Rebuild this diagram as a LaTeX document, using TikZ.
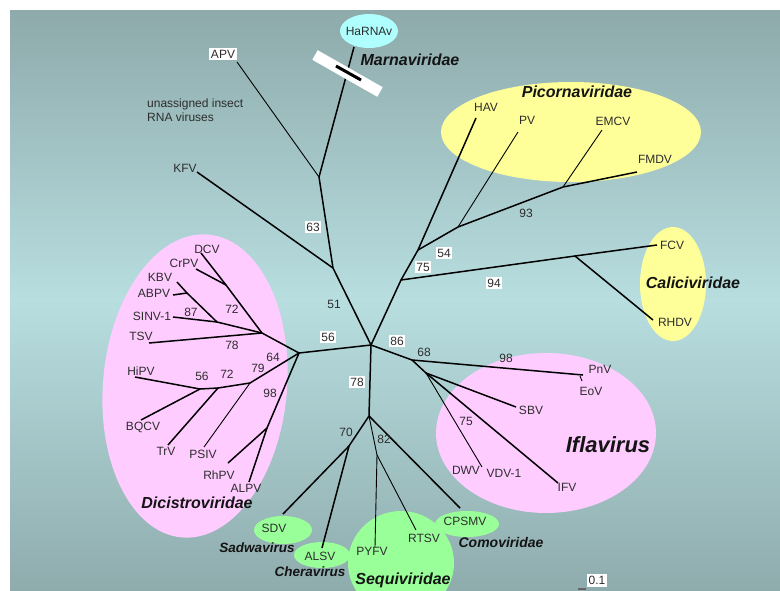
\documentclass[tikz,border=0pt]{standalone}
\usepackage{fontspec}
\setmainfont{Liberation Sans}
\usetikzlibrary{shapes.geometric}
\definecolor{bgtop}{RGB}{142,170,171}
\definecolor{bgmid}{RGB}{184,222,224}
\definecolor{bgbot}{RGB}{143,172,173}
\definecolor{pinkc}{RGB}{255,204,255}
\definecolor{yelc}{RGB}{255,255,153}
\definecolor{grnc}{RGB}{153,255,153}
\definecolor{cyac}{RGB}{176,255,255}
\definecolor{txtc}{RGB}{45,45,45}
\begin{document}
\begin{tikzpicture}[x=1pt,y=-1pt,
  lab/.style={font=\fontsize{12}{13}\selectfont, text=txtc, inner sep=1pt},
  bsv/.style={font=\fontsize{12}{13}\selectfont, text=txtc, inner sep=1pt},
  bbox/.style={bsv, fill=white, inner sep=1.5pt},
  fam/.style={font=\fontsize{16}{17}\selectfont\bfseries\itshape, text=black!92, inner sep=0pt},
  br/.style={line width=1.5pt, black},
  brt/.style={line width=0.9pt, black}]
\useasboundingbox (0,0) rectangle (780,590);
\fill[white] (0,0) rectangle (780,590);
\shade[top color=bgtop, bottom color=bgbot, middle color=bgmid] (10,10) rectangle (780,590);
% group ellipses
\fill[pinkc, rotate around={-5:(195,386)}] (195,386) ellipse [x radius=92pt, y radius=152pt];
\fill[pinkc] (546,433) ellipse [x radius=110pt, y radius=80pt];
\fill[yelc] (571,132) ellipse [x radius=130pt, y radius=50pt];
\fill[yelc] (673,284) ellipse [x radius=33pt, y radius=57pt];
\fill[cyac] (369,31) ellipse [x radius=29pt, y radius=17pt];
\fill[grnc] (401,563) ellipse [x radius=53pt, y radius=52pt];
\fill[grnc] (322,555) ellipse [x radius=28pt, y radius=13pt];
\fill[grnc] (283,530) ellipse [x radius=29pt, y radius=14pt];
\fill[grnc] (467,524) ellipse [x radius=32pt, y radius=13pt];
% junctions
\coordinate (root) at (371,345);
\coordinate (jU) at (333,268);
\coordinate (jM) at (319,177);
\coordinate (jP0) at (401,280);
\coordinate (jP1) at (418,250);
\coordinate (jP2) at (458,227);
\coordinate (jP3) at (563,187);
\coordinate (jC) at (575,256);
\coordinate (jD) at (299,353);
\coordinate (jD1) at (262,333);
\coordinate (jD2) at (226,285);
\coordinate (jD3) at (217,322);
\coordinate (jD4) at (187,293);
\coordinate (jL1) at (250,383);
\coordinate (jL2) at (218,388);
\coordinate (jL3) at (200,389);
\coordinate (jL4) at (267,428);
\coordinate (jI0) at (412,360);
\coordinate (jI1) at (426,373);
\coordinate (jEo) at (580,376);
\coordinate (jS) at (369,416);
\coordinate (jS1) at (349,446);
\coordinate (jS2) at (377,455);
% leaf ends
\coordinate (eAPV) at (237,62);
\coordinate (eHa) at (354,47);
\coordinate (eKFV) at (197,172);
\coordinate (eHAV) at (476,118);
\coordinate (ePV) at (518,132);
\coordinate (eEMCV) at (602,130);
\coordinate (eFMDV) at (637,172);
\coordinate (eFCV) at (657,245);
\coordinate (eRHDV) at (653,320);
\coordinate (eDCV) at (201,253);
\coordinate (eCrPV) at (196,269);
\coordinate (eKBV) at (177,282);
\coordinate (eABPV) at (173,295);
\coordinate (eSINV) at (173,317);
\coordinate (eTSV) at (149,343);
\coordinate (eHiPV) at (135,377);
\coordinate (eBQCV) at (141,420);
\coordinate (eTrV) at (168,445);
\coordinate (ePSIV) at (204,447);
\coordinate (eRhPV) at (228,463);
\coordinate (eALPV) at (249,482);
\coordinate (ePnV) at (583,375);
\coordinate (eEoV) at (582,381);
\coordinate (eSBV) at (516,407);
\coordinate (eIFV) at (558,483);
\coordinate (eDWV) at (482,467);
\coordinate (eSDV) at (283,514);
\coordinate (eALSV) at (322,548);
\coordinate (ePYFV) at (375,547);
\coordinate (eRTSV) at (416,530);
\coordinate (eCPSMV) at (460,508);
% branches
\draw[brt] (jM) -- (eAPV);
\draw[br] (jM) -- (eHa);
\draw[br] (jU) -- (jM);
\draw[br] (jU) -- (eKFV);
\draw[br] (root) -- (jU);
\draw[br] (root) -- (jP0) -- (jP1) -- (eHAV);
\draw[br] (jP1) -- (jP2);
\draw[brt] (jP2) -- (ePV);
\draw[br] (jP2) -- (jP3);
\draw[brt] (jP3) -- (eEMCV);
\draw[br] (jP3) -- (eFMDV);
\draw[br] (jP0) -- (jC) -- (eFCV);
\draw[br] (jC) -- (eRHDV);
\draw[br] (root) -- (jD);
\draw[br] (jD) -- (jD1);
\draw[br] (jD1) -- (jD2) -- (eDCV);
\draw[br] (jD2) -- (eCrPV);
\draw[br] (jD1) -- (jD3) -- (jD4) -- (eKBV);
\draw[br] (jD4) -- (eABPV);
\draw[br] (jD3) -- (eSINV);
\draw[br] (jD1) -- (eTSV);
\draw[br] (jD) -- (jL1) -- (jL2) -- (jL3) -- (eHiPV);
\draw[br] (jL3) -- (eBQCV);
\draw[br] (jL2) -- (eTrV);
\draw[brt] (jL1) -- (ePSIV);
\draw[br] (jD) -- (jL4) -- (eRhPV);
\draw[br] (jL4) -- (eALPV);
\draw[br] (root) -- (jI0) -- (ePnV);
\draw[brt] (jEo) -- (eEoV);
\draw[br] (jI0) -- (jI1) -- (eSBV);
\draw[br] (jI1) -- (eIFV);
\draw[brt] (jI1) -- (eDWV);
\draw[br] (root) -- (jS) -- (jS1) -- (eSDV);
\draw[br] (jS1) -- (eALSV);
\draw[brt] (jS) -- (jS2) -- (ePYFV);
\draw[brt] (jS2) -- (eRTSV);
\draw[br] (jS) -- (eCPSMV);
% cut bar on HaRNAv branch
\draw[white, line width=11pt] (315,55) -- (380,92);
\draw[black, line width=3pt] (336,66) -- (361,80);
% leaf labels
\node[lab, fill=white, inner sep=2pt] (nAPV) at (223,54) {APV};
\node[lab] (nHa) at (369,31) {HaRNAv};
\node[lab] (nKFV) at (185,168) {KFV};
\node[lab] (nHAV) at (486,107) {HAV};
\node[lab] (nPV) at (527,120) {PV};
\node[lab] (nEMCV) at (613,121) {EMCV};
\node[lab] (nFMDV) at (655,159) {FMDV};
\node[lab] (nFCV) at (672,245) {FCV};
\node[lab] (nRHDV) at (675,322) {RHDV};
\node[lab] (nDCV) at (207,249) {DCV};
\node[lab] (nCrPV) at (184,263) {CrPV};
\node[lab] (nKBV) at (160,277) {KBV};
\node[lab] (nABPV) at (154,293) {ABPV};
\node[lab] (nSINV) at (152,316) {SINV-1};
\node[lab] (nTSV) at (141,336) {TSV};
\node[lab] (nHiPV) at (141,371) {HiPV};
\node[lab] (nBQCV) at (143,427) {BQCV};
\node[lab] (nTrV) at (166,451) {TrV};
\node[lab] (nPSIV) at (203,454) {PSIV};
\node[lab] (nRhPV) at (219,475) {RhPV};
\node[lab] (nALPV) at (246,488) {ALPV};
\node[lab] (nPnV) at (600,369) {PnV};
\node[lab] (nEoV) at (591,391) {EoV};
\node[lab] (nSBV) at (531,410) {SBV};
\node[lab] (nIFV) at (567,487) {IFV};
\node[lab] (nDWV) at (466,470) {DWV};
\node[lab] (nVDV) at (504,473) {VDV-1};
\node[lab] (nSDV) at (274,528) {SDV};
\node[lab] (nALSV) at (320,556) {ALSV};
\node[lab] (nPYFV) at (372,551) {PYFV};
\node[lab] (nRTSV) at (424,538) {RTSV};
\node[lab] (nCPSMV) at (465,521) {CPSMV};
\node[bsv, anchor=west, align=left, font=\fontsize{12}{14}\selectfont] (nUn) at (146,110) {unassigned insect\\RNA viruses};
% support values
\node[bbox] (s63) at (313,227) {63};
\node[bsv] (s51) at (334,304) {51};
\node[bbox] (s75a) at (423,267) {75};
\node[bbox] (s54) at (444,253) {54};
\node[bsv] (s93) at (526,213) {93};
\node[bbox] (s94) at (494,283) {94};
\node[bsv] (s72a) at (232,309) {72};
\node[bsv] (s87) at (191,312) {87};
\node[bsv] (s78a) at (232,345) {78};
\node[bsv] (s64) at (273,357) {64};
\node[bsv] (s79) at (258,368) {79};
\node[bsv] (s72b) at (227,374) {72};
\node[bsv] (s56a) at (202,376) {56};
\node[bsv] (s98a) at (270,393) {98};
\node[bbox] (s56b) at (328,337) {56};
\node[bbox] (s86) at (397,341) {86};
\node[bsv] (s68) at (424,352) {68};
\node[bsv] (s98b) at (506,358) {98};
\node[bsv] (s75b) at (466,421) {75};
\node[bbox] (s78b) at (357,382) {78};
\node[bsv] (s70) at (346,432) {70};
\node[bsv] (s82) at (384,439) {82};
\node[bsv, fill=white, inner sep=2pt, anchor=north] (s01) at (597,574) {0.1};
\coordinate (sbL) at (578,589);
\draw[line width=1.5pt, black!60] (sbL) -- (s01.south west |- sbL);
% family labels
\node[fam] (fMarna) at (410,60) {Marnaviridae};
\node[fam] (fPicorna) at (577,92) {Picornaviridae};
\node[fam] (fCalici) at (693,283) {Caliciviridae};
\node[fam] (fDicistro) at (197,503) {Dicistroviridae};
\node[fam, font=\fontsize{22}{24}\selectfont\bfseries\itshape] (fIfla) at (608,445) {Iflavirus};
\node[fam, font=\fontsize{13.5}{15}\selectfont\bfseries\itshape] (fSadwa) at (257,548) {Sadwavirus};
\node[fam, font=\fontsize{13.5}{15}\selectfont\bfseries\itshape] (fChera) at (310,572) {Cheravirus};
\node[fam] (fSequi) at (403,580) {Sequiviridae};
\node[fam, font=\fontsize{14}{15}\selectfont\bfseries\itshape] (fComo) at (501,542) {Comoviridae};
\end{tikzpicture}
\end{document}
